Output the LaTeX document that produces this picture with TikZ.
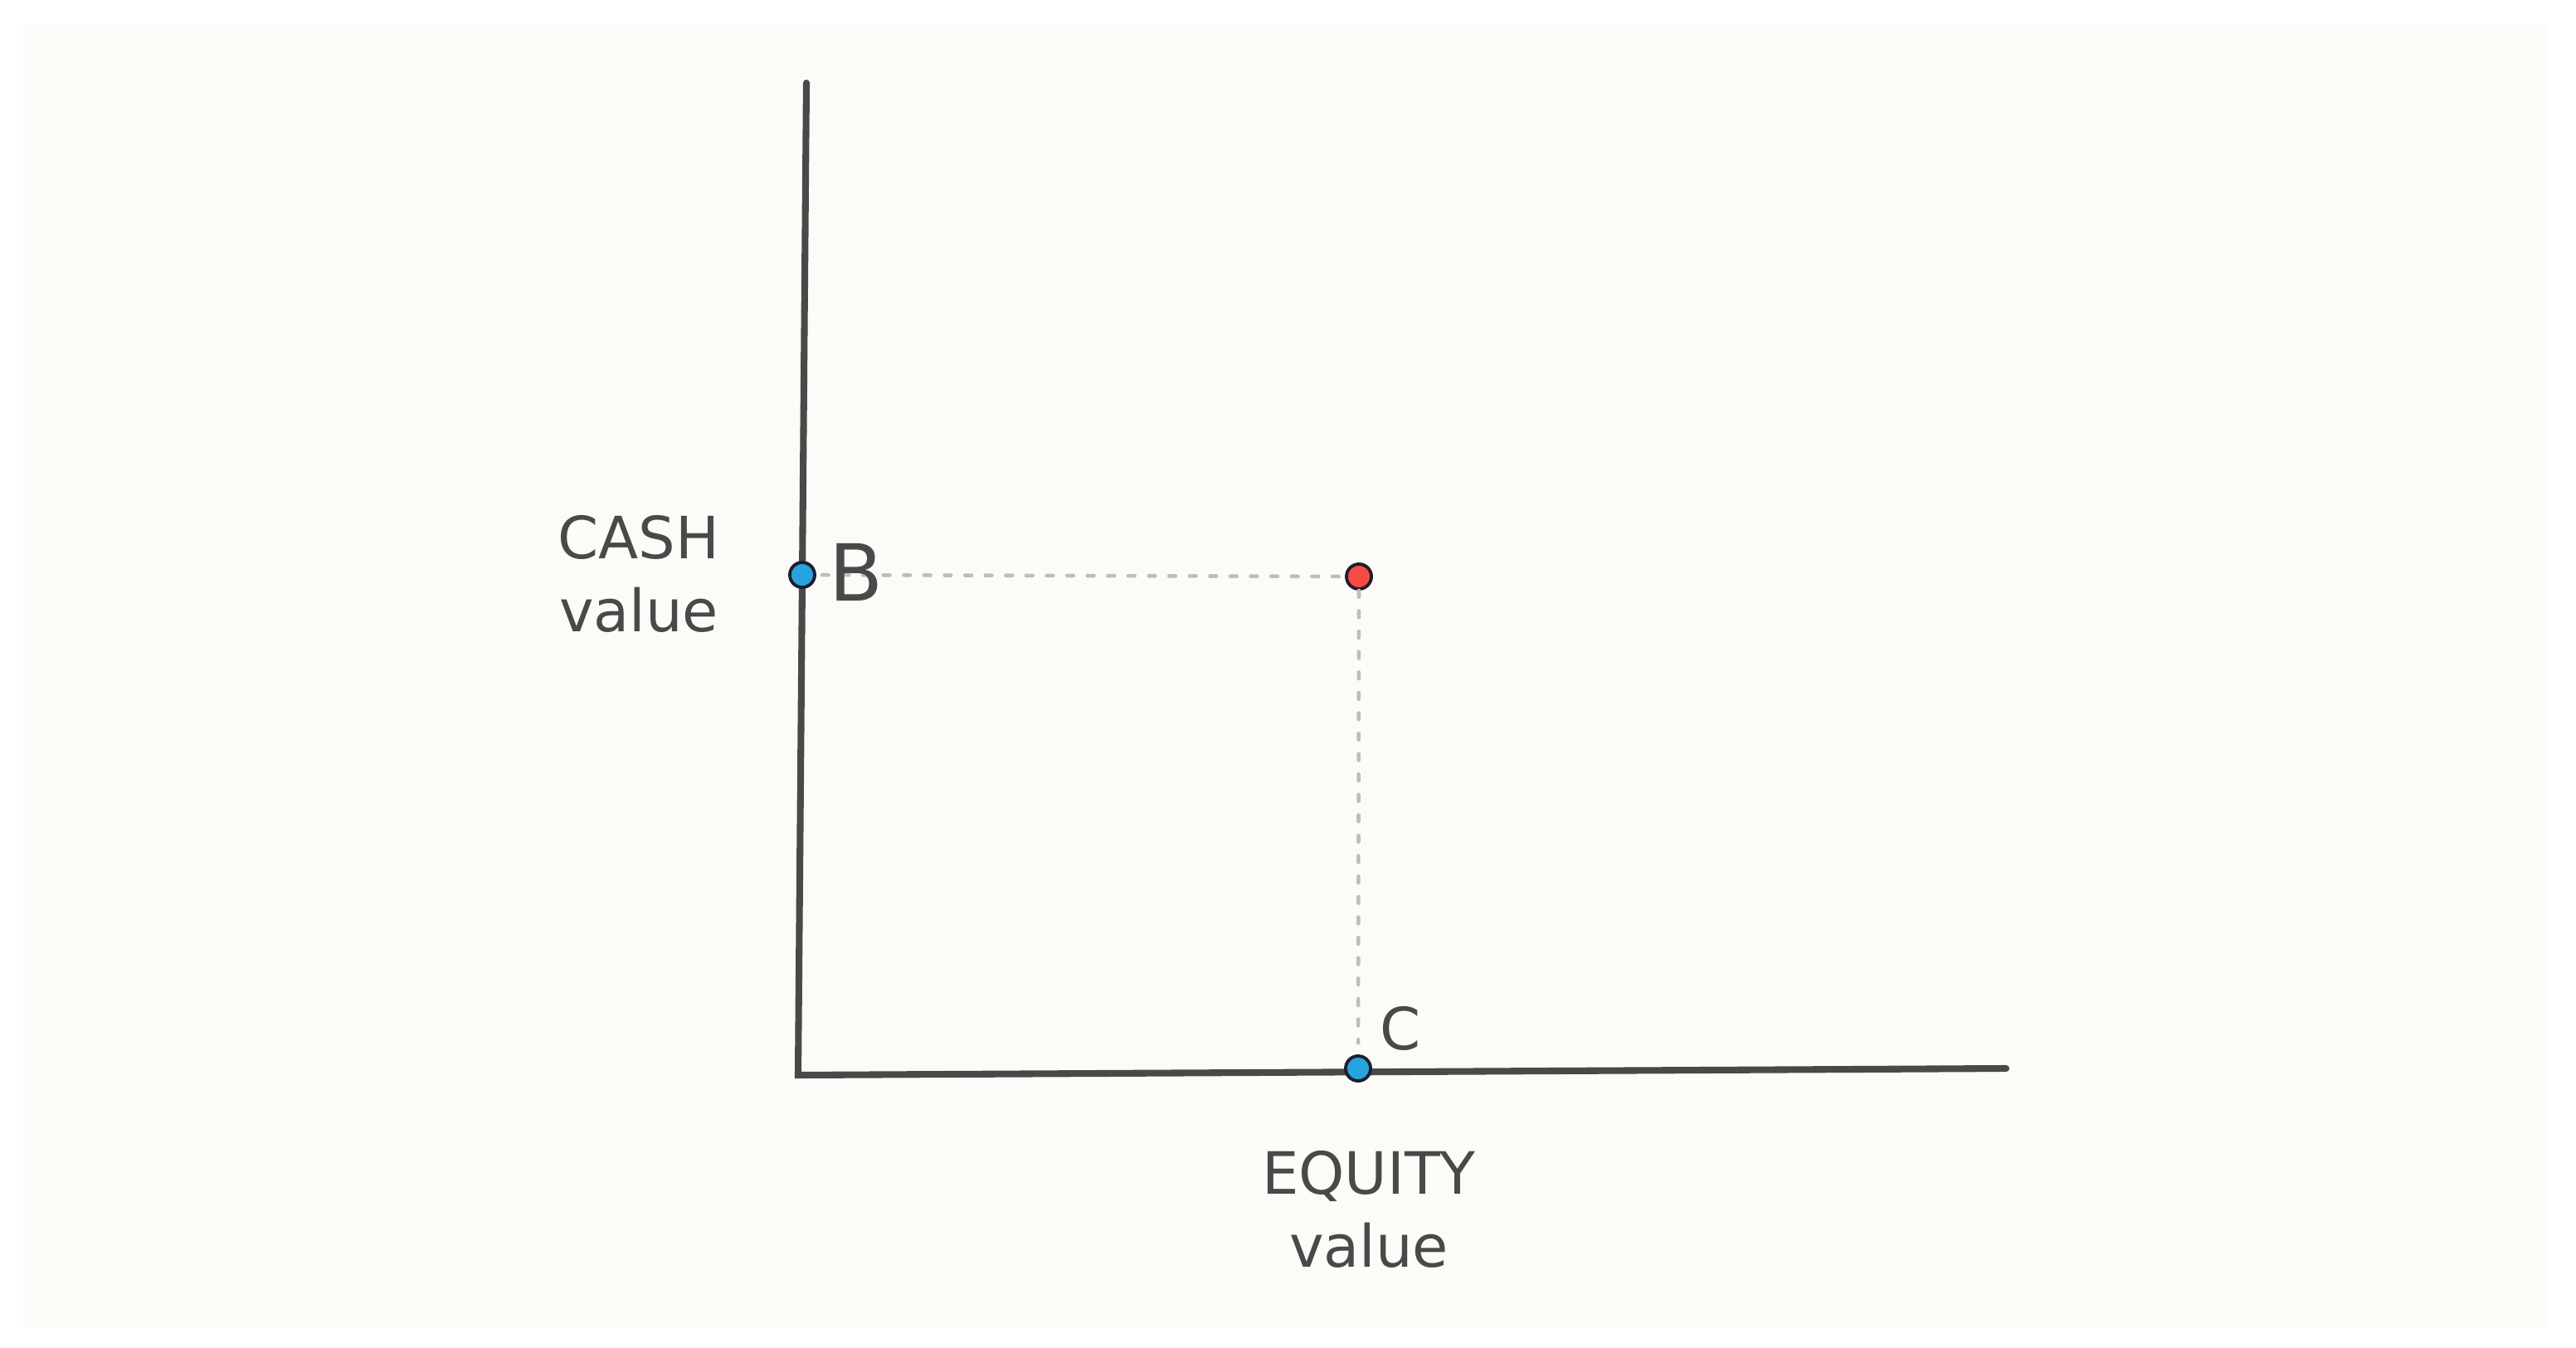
\documentclass[tikz,border=0pt]{standalone}
\usepackage{fontspec}
\setmainfont{DejaVu Sans}
\definecolor{paper}{HTML}{FDFBF7}
\definecolor{ink}{HTML}{494949}
\definecolor{guidegray}{HTML}{BDBDBD}
\definecolor{dotline}{HTML}{1E1E2E}
\definecolor{dotblue}{HTML}{27A3E0}
\definecolor{dotred}{HTML}{F84B44}

\begin{document}
\begin{tikzpicture}[
  axis/.style={line width=2.3pt,draw=ink,line cap=round},
  guide/.style={line width=1.3pt,draw=guidegray,dash pattern=on 2.2pt off 4.8pt,line cap=round},
  dot/.style={circle,draw=dotline,line width=1.1pt,inner sep=0pt,minimum size=0.3cm},
  lbl/.style={text=ink,font=\fontsize{20}{25}\selectfont,align=center}
]
\useasboundingbox[fill=white] (0,0) rectangle (31.05,-16.25);
\fill[paper] (0.28,-0.30) rectangle (30.71,-16.00);

% axes
\coordinate (ytop) at (9.72,-1.00);
\coordinate (origin) at (9.62,-12.96);
\coordinate (xend) at (24.18,-12.88);
\draw[axis] (ytop) -- (origin) -- (xend);

% points
\node[dot,fill=dotblue] (b) at (9.67,-6.93) {};
\node[dot,fill=dotred] (p) at (16.38,-6.95) {};
\node[dot,fill=dotblue] (c) at (16.37,-12.88) {};

\draw[guide,shorten <=2pt] (b) -- (p);
\draw[guide,shorten >=4pt] (p) -- (c);

% labels
\node[lbl,font=\fontsize{27}{30}\selectfont] (blabel) at (10.32,-6.90) {B};
\node[lbl] (clabel) at (16.88,-12.40) {C};
\node[lbl] (cash) at (7.70,-6.92) {CASH\\value};
\node[lbl] (equity) at (16.50,-14.58) {EQUITY\\value};
\end{tikzpicture}
\end{document}
